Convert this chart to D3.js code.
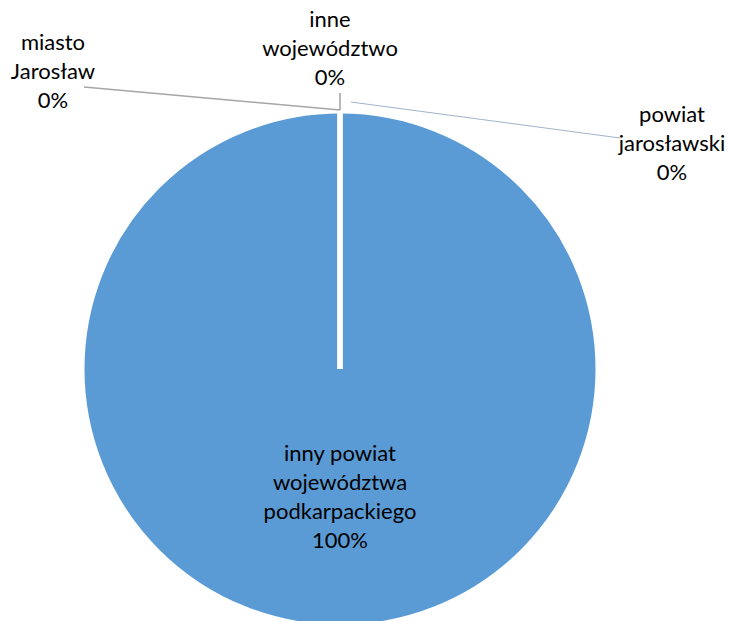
<!DOCTYPE html>
<html>
<head>
<meta charset="utf-8">
<script src="https://cdn.jsdelivr.net/npm/d3@7"></script>
<style>
  html, body { margin: 0; padding: 0; background: #fff; }
  svg text { font-family: Lato, 'Liberation Sans', sans-serif; fill: #000; }
</style>
</head>
<body>
<div id="chart"></div>
<script>
// data
const categories = ['miasto Jarosław', 'powiat jarosławski', 'inny powiat województwa podkarpackiego', 'inne województwo']
const values = [0, 0, 100, 0]
const nameLines = [['miasto', 'Jarosław'], ['powiat', 'jarosławski'], ['inny powiat', 'województwa', 'podkarpackiego'], ['inne', 'województwo']]

// label placement for the 0% slices (offsets from the slice's point on the rim)
const labelLayout = [
  { dx: -287, dy: -61, line: [[-256, -24], [0, -1]], color: '#a6a6a6', lw: 1.6 },
  { dx: 332, dy: 11, line: [[11, -9], [280, 27]], color: '#9fb4cc', lw: 1 },
  null,
  { dx: -10, dy: -84, line: [[0, -18], [0, -1]], color: '#a6a6a6', lw: 1.6 }
]

const width = 729
const height = 621
const cx = 340
const cy = 369
const radius = 258
const fontSize = 22
const lineHeight = 29

const svg = d3
  .select('#chart')
  .append('svg')
  .attr('width', width)
  .attr('height', height)

const g = svg.append('g').attr('transform', 'translate(' + cx + ',' + cy + ')')

const total = d3.sum(values)
const data = categories.map((c, i) => ({ key: c, value: values[i], lines: nameLines[i], layout: labelLayout[i] }))

const pie = d3
  .pie()
  .sort(null)
  .value(d => d.value)
const arcs = pie(data)

const arc = d3.arc().innerRadius(0).outerRadius(radius)

// big slice first, empty slices on top so their edge shows as a white spoke
const order = arcs.slice().sort((a, b) => b.data.value - a.data.value)
g.selectAll('path.slice')
  .data(order)
  .enter()
  .append('path')
  .attr('class', 'slice')
  .attr('d', arc)
  .attr('fill', '#5b9bd5')
  .attr('stroke', '#fff')
  .attr('stroke-width', 5)

const pct = d => Math.round((d.data.value / total) * 100) + '%'

// rim point of a slice (its start angle)
const rimPoint = d => [radius * Math.sin(d.startAngle), -radius * Math.cos(d.startAngle)]

// leader lines
const small = arcs.filter(d => d.data.layout)
g.selectAll('polyline.leader')
  .data(small)
  .enter()
  .append('polyline')
  .attr('class', 'leader')
  .attr('fill', 'none')
  .attr('stroke', d => d.data.layout.color)
  .attr('stroke-width', d => d.data.layout.lw)
  .attr('points', d => {
    const p = rimPoint(d)
    return d.data.layout.line.map(o => [p[0] + o[0], p[1] + o[1]].join(',')).join(' ')
  })

function addLabel(sel, x, y, lines) {
  const t = sel
    .append('text')
    .attr('text-anchor', 'middle')
    .style('font-size', fontSize + 'px')
  lines.forEach((l, i) => {
    t.append('tspan')
      .attr('x', x)
      .attr('y', y + i * lineHeight)
      .text(l)
  })
}

// small slice labels
small.forEach(d => {
  const p = rimPoint(d)
  const L = d.data.layout
  addLabel(g, p[0] + L.dx, p[1] + L.dy, d.data.lines.concat([pct(d)]))
})

// big slice label at the centroid
arcs.filter(d => !d.data.layout).forEach(d => {
  const c = arc.centroid(d)
  const lines = d.data.lines.concat([pct(d)])
  const y0 = c[1] - ((lines.length - 1) * lineHeight) / 2 + 6
  addLabel(g, c[0], y0, lines)
})
</script>
</body>
</html>
